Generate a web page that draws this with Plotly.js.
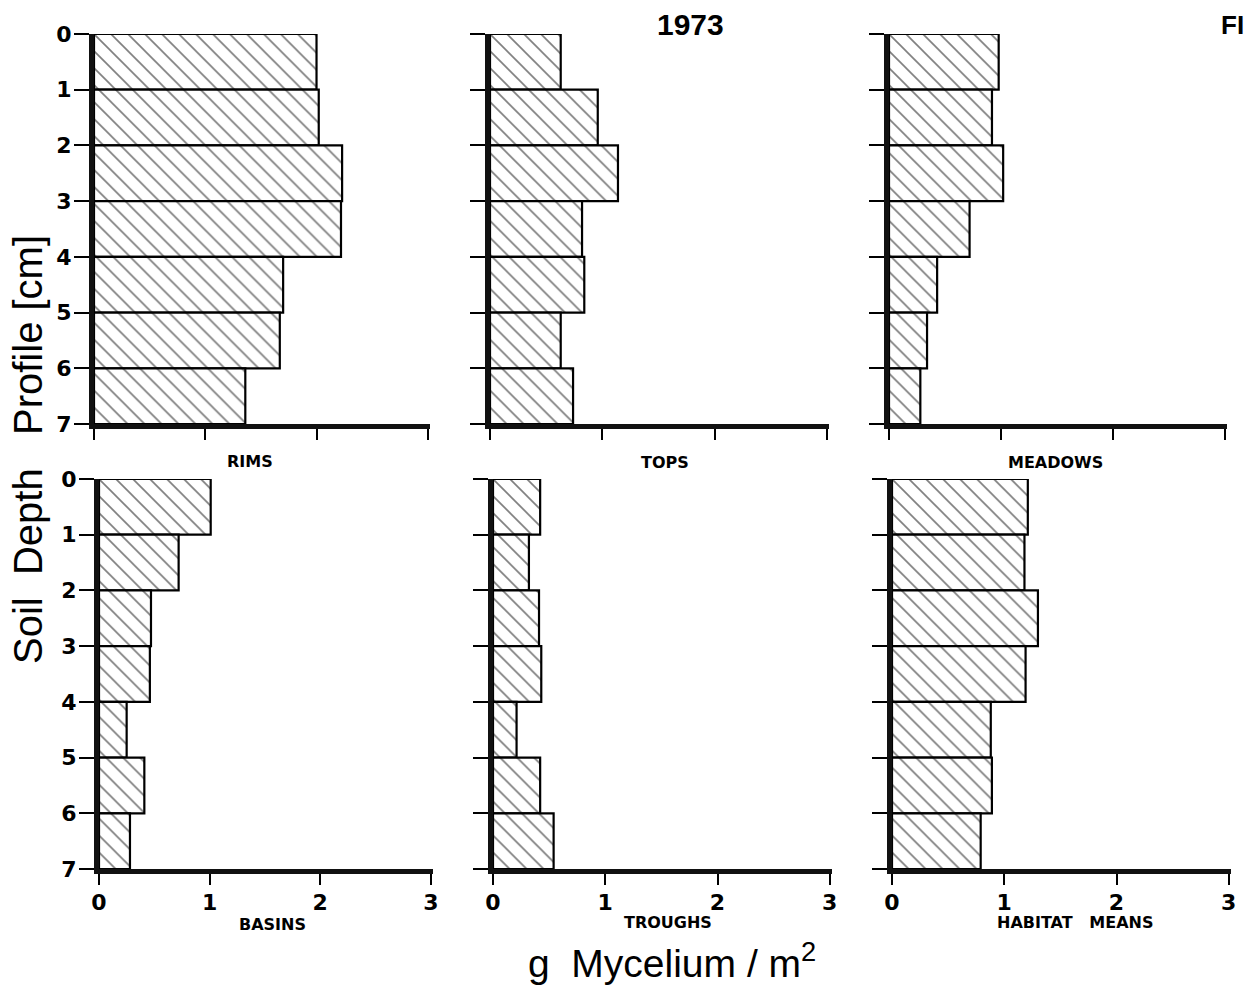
<!DOCTYPE html>
<html><head><meta charset="utf-8">
<script src="https://cdn.plot.ly/plotly-3.0.1.min.js"></script>
<style>html,body{margin:0;padding:0;background:#fff}#chart{width:1248px;height:987px}</style>
</head><body><div id="chart"></div>
<script>
// Depth intervals (top of each 1-cm layer)
const depthTop = [0, 1, 2, 3, 4, 5, 6];
const depthTicks = [0, 1, 2, 3, 4, 5, 6, 7];
const xTicks = [0, 1, 2, 3];
// g Mycelium / m2 per layer
const rims    = [2.00, 2.02, 2.23, 2.22, 1.70, 1.67, 1.36];
const tops    = [0.63, 0.96, 1.14, 0.82, 0.84, 0.63, 0.74];
const meadows = [0.98, 0.92, 1.02, 0.72, 0.43, 0.34, 0.28];
const basins  = [1.01, 0.72, 0.47, 0.46, 0.25, 0.41, 0.28];
const troughs = [0.42, 0.32, 0.41, 0.43, 0.21, 0.42, 0.54];
const means   = [1.21, 1.18, 1.30, 1.19, 0.88, 0.89, 0.79];
const panelNames = ['RIMS', 'TOPS', 'MEADOWS', 'BASINS', 'TROUGHS', 'HABITAT   MEANS'];
const series = [rims, tops, meadows, basins, troughs, means];

const W = 1248, H = 987;
const px = v => v / W, py = v => 1 - v / H;
// panel pixel boxes [left, right, top, bottom]
const boxes = [
  [94, 430, 34, 424], [490, 829, 34, 424], [889, 1227, 34, 424],
  [99, 433, 479, 869], [493, 832, 479, 869], [892, 1231, 479, 869]
];
const labelPos = [[250, 461], [665, 462], [1055, 462], [272, 924], [668, 922], [1075, 922]];

const FONT = 'Liberation Sans, Arial, sans-serif';
const BFONT = 'DejaVu Sans, Liberation Sans, sans-serif';
const traces = [];
const layout = {
  width: W, height: H, margin: {l: 0, r: 0, t: 0, b: 0},
  paper_bgcolor: '#fff', plot_bgcolor: '#fff', showlegend: false,
  bargap: 0, annotations: []
};
series.forEach((vals, i) => {
  const n = i === 0 ? '' : String(i + 1);
  traces.push({
    type: 'bar', orientation: 'h', x: vals, y: depthTop, width: 1, offset: 0,
    xaxis: 'x' + n, yaxis: 'y' + n,
    marker: {color: '#fff', line: {color: '#000', width: 2.2},
      pattern: {shape: '\\', fgcolor: '#000', bgcolor: '#fff', size: 12, solidity: 0.14, fillmode: 'overlay'}},
    hoverinfo: 'x+y'
  });
  const b = boxes[i];
  const bottomRow = i >= 3, leftCol = i % 3 === 0;
  layout['xaxis' + n] = {
    domain: [px(b[0]), px(b[1])], anchor: 'y' + n, range: [0, 3.02],
    tickvals: xTicks, ticktext: xTicks.map(String), showticklabels: bottomRow,
    ticks: 'outside', ticklen: 11, tickwidth: 2, tickcolor: '#000', ticklabelstandoff: -1,
    showline: true, linewidth: 5, linecolor: '#111', showgrid: false, zeroline: false,
    tickfont: {family: BFONT, size: 22, color: '#000', weight: 'bold'}
  };
  layout['yaxis' + n] = {
    domain: [py(b[3]), py(b[2])], anchor: 'x' + n, range: [7, 0],
    tickvals: depthTicks, ticktext: depthTicks.map(String), showticklabels: leftCol,
    ticks: 'outside', ticklen: 15, tickwidth: 2, tickcolor: '#000', ticklabelstandoff: -2,
    showline: true, linewidth: 5, linecolor: '#111', showgrid: false, zeroline: false,
    tickfont: {family: BFONT, size: 22, color: '#000', weight: 'bold'}
  };
  layout.annotations.push({
    xref: 'paper', yref: 'paper', x: px(labelPos[i][0]), y: py(labelPos[i][1]),
    xanchor: 'center', yanchor: 'middle', showarrow: false, text: panelNames[i],
    font: {family: BFONT, size: 16, color: '#000', weight: 'bold'}
  });
});
layout.annotations.push(
  {xref: 'paper', yref: 'paper', x: px(690), y: py(24), xanchor: 'center', yanchor: 'middle', showarrow: false,
   text: '1973', font: {family: FONT, size: 30, color: '#000', weight: 'bold'}},
  {xref: 'paper', yref: 'paper', x: px(1232), y: py(25), xanchor: 'center', yanchor: 'middle', showarrow: false,
   text: 'FI', font: {family: FONT, size: 26, color: '#000', weight: 'bold'}},
  {xref: 'paper', yref: 'paper', x: px(672), y: py(960), xanchor: 'center', yanchor: 'middle', showarrow: false,
   text: 'g  Mycelium / m<sup>2</sup>', font: {family: FONT, size: 39, color: '#000'}},
  {xref: 'paper', yref: 'paper', x: px(28), y: py(450), xanchor: 'center', yanchor: 'middle', showarrow: false,
   textangle: -90, text: 'Soil  Depth   Profile [cm]', font: {family: FONT, size: 40, color: '#000'}}
);
Plotly.newPlot('chart', traces, layout, {staticPlot: true});
</script></body></html>
